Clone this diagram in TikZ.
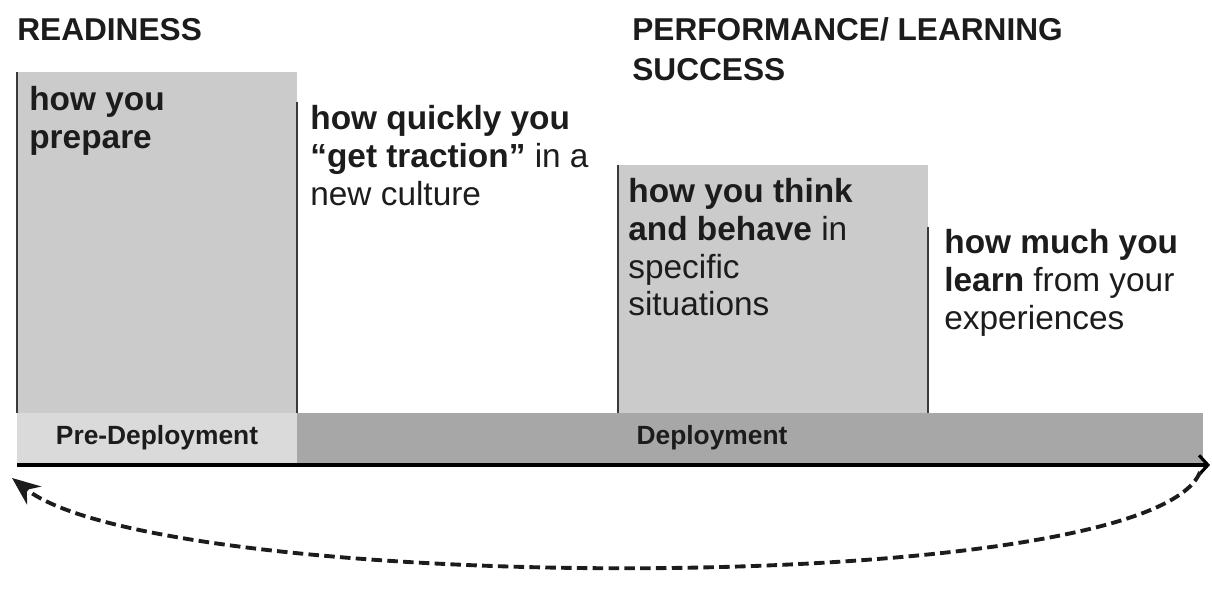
\documentclass[tikz,border=0pt]{standalone}
\usepackage{fontspec}
\setmainfont{Liberation Sans}
\usetikzlibrary{arrows.meta}
\definecolor{boxgray}{HTML}{CBCBCB}
\definecolor{pregray}{HTML}{DADADA}
\definecolor{depgray}{HTML}{A7A7A7}
\definecolor{edgegray}{HTML}{3A3A3A}
\definecolor{ink}{HTML}{1C1C1C}
\tikzset{
  heading/.style={anchor=north west, inner sep=0pt, align=left, text=ink,
    font=\fontsize{18}{22.7}\selectfont\bfseries},
  body/.style={anchor=north west, inner sep=0pt, align=left, text=ink,
    font=\fontsize{19}{21.5}\selectfont},
  phase/.style={text=ink, font=\fontsize{15}{18}\selectfont\bfseries},
  edge/.style={edgegray, line width=1.1pt}
}
\begin{document}
\begin{tikzpicture}[x=0.02cm, y=-0.02cm]
  \useasboundingbox (0,0) rectangle (1212,590);
  % headings
  \node[heading] (ready) at (17,18) {READINESS};
  \node[heading] (perf) at (632,17) {PERFORMANCE/ LEARNING\\SUCCESS};
  % gray columns
  \fill[boxgray] (17,72) rectangle (297,413);
  \fill[boxgray] (618,165) rectangle (928,413);
  \draw[edge] (17,72) -- (17,413);
  \draw[edge] (297,102) -- (297,413);
  \draw[edge] (618,165) -- (618,413);
  \draw[edge] (928,227) -- (928,413);
  % column texts
  \node[body] (prepare) at (29,86) {\textbf{how you}\\\textbf{prepare}};
  \node[body] (traction) at (310,105)
    {\textbf{how quickly you}\\\textbf{``get traction''} in a\\new culture};
  \node[body] (behave) at (628,178)
    {\textbf{how you think}\\\textbf{and behave} in\\specific\\situations};
  \node[body] (learn) at (944,229)
    {\textbf{how much you}\\\textbf{learn} from your\\experiences};
  % phase bar
  \fill[pregray] (17,413) rectangle (297,463);
  \fill[depgray] (297,413) rectangle (1203,463);
  \node[phase] (pre) at (157,438) {Pre-Deployment};
  \node[phase] (dep) at (712,438) {Deployment};
  % time axis and the loop back
  \coordinate (tstart) at (17,465);
  \coordinate (tend) at (1210,465);
  \draw[line width=1.8pt, -{Straight Barb[length=5pt,width=11pt]}] (tstart) -- (tend);
  \coordinate (loopfrom) at (1200,472);
  \coordinate (loopto) at (12,478);
  \draw[ink, dash pattern=on 6pt off 3pt, line width=2.2pt,
    -{Stealth[length=16pt,width=13pt]}]
    (loopfrom) .. controls (1150,600) and (160,595) .. (loopto);
\end{tikzpicture}
\end{document}
